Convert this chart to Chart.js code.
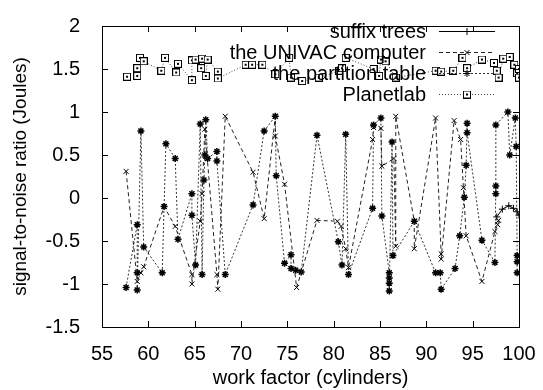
<!DOCTYPE html>
<html lang="en">
<head>
<meta charset="UTF-8">
<title>signal-to-noise ratio</title>
<script src="https://cdn.jsdelivr.net/npm/chart.js"></script>
<style>
    html, body { margin: 0; padding: 0; background: #fff; }
    #box { width: 543px; height: 390px; }
</style>
</head>
<body>
<div id="box"><canvas id="grafico"></canvas></div>
<script>
// valores
const suffixX = [97.6, 98.2, 98.9, 99.4, 99.8, 100];
const suffixY = [-0.22, -0.13, -0.09, -0.12, -0.16, -0.2];

const univacX = [57.6, 58.8, 59.2, 59.5, 61.7, 62.9, 64.7, 64.7, 65.6, 65.8, 66.1, 67.4, 67.5, 68.3, 71.3, 72.5, 73.7, 73.7, 74.7, 76.0, 78.2, 80.4, 80.8, 81.3, 81.6, 84.2, 84.3, 85.1, 85.2, 86.5, 86.7, 86.7, 88.7, 88.7, 91.0, 91.6, 91.6, 93.0, 93.7, 94.0, 94.3, 96.0, 97.4, 97.7, 97.8];
const univacY = [0.31, -0.97, -0.87, -0.80, -0.10, -0.33, -0.89, -1.00, -0.27, 0.05, 0.80, -0.89, -1.06, 0.95, 0.30, -0.24, 0.95, 0.72, 0.16, -1.04, -0.26, -0.27, -0.33, -0.59, -0.81, 0.68, 0.82, 0.81, 0.37, 0.46, -0.56, 0.95, -0.27, -0.59, 0.93, -0.65, -0.71, 0.90, 0.68, 0.12, -0.44, -0.97, -0.39, -0.31, -0.26];

const partX = [57.6, 58.8, 58.8, 58.8, 59.2, 59.5, 61.5, 61.7, 61.9, 62.9, 63.2, 64.7, 64.7, 65.1, 65.6, 65.8, 66.0, 66.1, 66.2, 66.4, 67.4, 67.4, 68.3, 71.3, 72.5, 73.7, 73.8, 74.7, 75.4, 75.4, 75.9, 76.5, 78.2, 80.5, 80.9, 81.3, 81.6, 84.2, 84.3, 85.1, 85.2, 86.0, 86.0, 86.0, 86.0, 86.3, 86.4, 88.7, 91.0, 91.5, 91.6, 93.1, 93.6, 94.1, 94.3, 94.4, 94.4, 96.0, 97.4, 97.5, 97.5, 97.5, 98.8, 99.0, 99.6, 99.7, 99.8, 99.8, 99.8];
const partY = [-1.04, -0.31, -0.87, -1.07, 0.78, -0.57, -0.87, -0.10, 0.63, 0.46, -0.48, 0.05, -0.20, -0.78, 0.86, -0.89, 0.21, 0.50, 0.91, 0.46, 0.54, 0.43, -0.89, -0.08, 0.78, 0.95, 0.26, -0.76, -0.66, -0.82, -0.84, -0.86, 0.73, -0.51, -0.78, 0.74, -0.89, -0.12, 0.85, 0.93, -0.21, -0.87, -0.93, -0.99, -1.08, 0.65, -0.67, -0.27, -0.87, -0.87, -1.06, -0.82, -0.44, 0.01, 0.38, 0.87, 0.76, -0.49, -0.75, 0.14, 0.05, 0.85, 1.00, 0.50, 0.93, 0.60, -0.67, -0.74, -0.87];

const planetX = [57.7, 58.8, 58.8, 59.1, 59.5, 61.4, 61.8, 63.0, 63.2, 64.7, 64.7, 65.1, 65.7, 65.8, 66.2, 66.4, 67.5, 67.5, 70.5, 71.2, 72.3, 73.7, 75.2, 75.4, 76.6, 78.4, 80.6, 80.9, 81.3, 84.3, 84.9, 85.1, 85.6, 86.7, 91.0, 91.6, 92.9, 93.9, 94.4, 96.0, 97.3, 97.6, 97.8, 98.3, 99.0, 99.5, 99.8, 100, 100];
const planetY = [1.41, 1.42, 1.51, 1.63, 1.59, 1.48, 1.63, 1.46, 1.56, 1.37, 1.60, 1.61, 1.51, 1.62, 1.42, 1.61, 1.47, 1.39, 1.55, 1.55, 1.55, 1.44, 1.63, 1.40, 1.36, 1.40, 1.48, 1.51, 1.63, 1.50, 1.42, 1.61, 1.59, 1.40, 1.48, 1.47, 1.48, 1.63, 1.51, 1.61, 1.57, 1.48, 1.40, 1.62, 1.64, 1.55, 1.45, 1.50, 1.40];

const xTicks = [55, 60, 65, 70, 75, 80, 85, 90, 95, 100];
const yTicks = [-1.5, -1, -0.5, 0, 0.5, 1, 1.5, 2];

function pontos(xs, ys) {
    return xs.map((x, i) => ({ x: x, y: ys[i] }));
}

const fonte = "'Liberation Sans', Arial, sans-serif";

// quadrado com ponto no meio (marcador do Planetlab)
const quadrado = document.createElement('canvas');
quadrado.width = 8;
quadrado.height = 8;
const qctx = quadrado.getContext('2d');
qctx.strokeStyle = '#000';
qctx.lineWidth = 1;
qctx.fillStyle = '#fff';
qctx.fillRect(0, 0, 8, 8);
qctx.strokeRect(0.5, 0.5, 7, 7);
qctx.fillStyle = '#000';
qctx.fillRect(3, 3, 2, 2);

// legenda no estilo gnuplot (texto à direita, amostra da linha)
const legendaPlugin = {
    id: 'legendaGnuplot',
    afterDatasetsDraw(chart) {
        const ctx = chart.ctx;
        const textoX = 426, x1 = 439, x2 = 495;
        const linhas = [31, 52, 73, 94];
        ctx.save();
        chart.data.datasets.forEach((ds, i) => {
            const y = linhas[i];
            ctx.fillStyle = '#000';
            ctx.font = '20px ' + fonte;
            ctx.textAlign = 'right';
            ctx.textBaseline = 'middle';
            ctx.fillText(ds.label, textoX, y + 1);
            ctx.strokeStyle = ds.borderColor;
            ctx.lineWidth = 1;
            ctx.setLineDash(ds.borderDash || []);
            ctx.beginPath();
            ctx.moveTo(x1, y + 0.5);
            ctx.lineTo(x2, y + 0.5);
            ctx.stroke();
            ctx.setLineDash([]);
            ctx.strokeStyle = ds.pointBorderColor;
            ctx.fillStyle = ds.pointBackgroundColor;
            Chart.helpers.drawPoint(ctx, {
                pointStyle: ds.pointStyle,
                radius: ds.pointRadius,
                borderWidth: ds.pointBorderWidth,
                rotation: 0
            }, (x1 + x2) / 2, y + 0.5);
        });
        ctx.restore();
    }
};

// moldura e marcas para dentro, como no gnuplot
const molduraPlugin = {
    id: 'moldura',
    afterDraw(chart) {
        const ctx = chart.ctx;
        const a = chart.chartArea;
        const sx = chart.scales.x, sy = chart.scales.y;
        ctx.save();
        ctx.strokeStyle = '#000';
        ctx.lineWidth = 1;
        ctx.strokeRect(Math.round(a.left) + 0.5, Math.round(a.top) + 0.5,
            Math.round(a.right - a.left), Math.round(a.bottom - a.top));
        ctx.beginPath();
        xTicks.forEach(v => {
            const px = Math.round(sx.getPixelForValue(v)) + 0.5;
            ctx.moveTo(px, a.bottom); ctx.lineTo(px, a.bottom - 6);
            ctx.moveTo(px, a.top); ctx.lineTo(px, a.top + 6);
        });
        yTicks.forEach(v => {
            const py = Math.round(sy.getPixelForValue(v)) + 0.5;
            ctx.moveTo(a.left, py); ctx.lineTo(a.left + 6, py);
            ctx.moveTo(a.right, py); ctx.lineTo(a.right - 6, py);
        });
        ctx.stroke();
        ctx.restore();
    }
};

const grafico = document.getElementById('grafico');
new Chart(grafico, {
    type: 'scatter',
    data: {
        datasets: [{
            label: 'suffix trees',
            data: pontos(suffixX, suffixY),
            showLine: true,
            borderColor: '#000',
            borderWidth: 1,
            pointStyle: 'cross',
            pointRadius: 3.5,
            pointBorderColor: '#000',
            pointBackgroundColor: '#000',
            pointBorderWidth: 1
        }, {
            label: 'the UNIVAC computer',
            data: pontos(univacX, univacY),
            showLine: true,
            borderColor: '#222',
            borderWidth: 1,
            borderDash: [4, 3],
            pointStyle: 'crossRot',
            pointRadius: 3.5,
            pointBorderColor: '#000',
            pointBackgroundColor: '#000',
            pointBorderWidth: 1
        }, {
            label: 'the partition table',
            data: pontos(partX, partY),
            showLine: true,
            borderColor: '#333',
            borderWidth: 1,
            borderDash: [2, 2],
            pointStyle: 'star',
            pointRadius: 3.5,
            pointBorderColor: '#000',
            pointBackgroundColor: '#000',
            pointBorderWidth: 1.5
        }, {
            label: 'Planetlab',
            data: pontos(planetX, planetY),
            showLine: true,
            borderColor: '#444',
            borderWidth: 1,
            borderDash: [1, 2],
            pointStyle: quadrado,
            pointRadius: 4,
            pointBorderColor: '#000',
            pointBackgroundColor: '#fff',
            pointBorderWidth: 1
        }]
    },
    options: {
        responsive: true,
        maintainAspectRatio: false,
        animation: false,
        devicePixelRatio: 1,
        layout: { padding: { top: 16, right: 24, left: 0, bottom: 0 } },
        plugins: {
            legend: { display: false },
            tooltip: { enabled: false }
        },
        scales: {
            x: {
                type: 'linear',
                min: 55,
                max: 100,
                afterBuildTicks(scale) { scale.ticks = xTicks.map(v => ({ value: v })); },
                afterFit(scale) { scale.height = 63; },
                grid: { display: false },
                border: { display: false },
                ticks: { color: '#000', font: { family: fonte, size: 20 }, padding: 7, autoSkip: false, maxRotation: 0, callback: v => String(v) },
                title: { display: true, text: 'work factor (cylinders)', color: '#000', font: { family: fonte, size: 20 }, padding: { top: 0, bottom: 0 } }
            },
            y: {
                type: 'linear',
                min: -1.5,
                max: 2,
                afterBuildTicks(scale) { scale.ticks = yTicks.map(v => ({ value: v })); },
                afterFit(scale) { scale.width = 102; },
                grid: { display: false },
                border: { display: false },
                ticks: { color: '#000', font: { family: fonte, size: 20 }, padding: 14, callback: v => String(v) },
                title: { display: true, text: 'signal-to-noise ratio (Joules)', color: '#000', font: { family: fonte, size: 19 }, padding: { top: 9, bottom: 0 } }
            }
        }
    },
    plugins: [legendaPlugin, molduraPlugin]
});
</script>
</body>
</html>
